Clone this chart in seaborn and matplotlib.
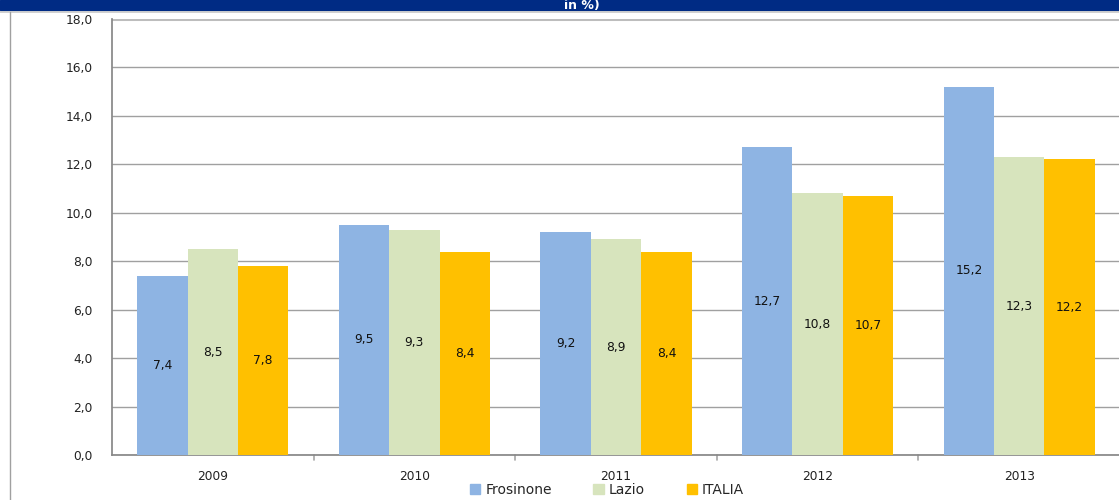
import matplotlib
matplotlib.use("Agg")
import matplotlib.pyplot as plt
from matplotlib.patches import Rectangle
from matplotlib.lines import Line2D
import seaborn as sns
import pandas as pd

years = ["2009", "2010", "2011", "2012", "2013"]
series = ["Frosinone", "Lazio", "ITALIA"]
frosinone = [7.4, 9.5, 9.2, 12.7, 15.2]
lazio = [8.5, 9.3, 8.9, 10.8, 12.3]
italia = [7.8, 8.4, 8.4, 10.7, 12.2]
yticks = [0, 2, 4, 6, 8, 10, 12, 14, 16, 18]
palette = ["#8EB4E3", "#D7E4BD", "#FFC000"]

df = pd.DataFrame({
    "anno": years * 3,
    "serie": [s for s in series for _ in years],
    "valore": frosinone + lazio + italia,
})

sns.set_theme(style="white")
plt.rcParams["font.family"] = ["DejaVu Sans"]

W, H = 1119, 500
fig = plt.figure(figsize=(W / 100, H / 100), dpi=100)
ax = fig.add_axes([112 / W, 1 - 455 / H, (1120 - 112) / W, (455 - 19) / H])

sns.barplot(data=df, x="anno", y="valore", hue="serie", hue_order=series,
            palette=palette, width=0.75, saturation=1, ax=ax,
            edgecolor="none", linewidth=0, legend=False, zorder=3)

ax.set_xlim(-0.5, len(years) - 0.5)
ax.set_ylim(0, 18)
ax.set_yticks(yticks)
ax.set_yticklabels([f"{v:.1f}".replace(".", ",") for v in yticks],
                   fontsize=8.8, color="#222222")
ax.set_xticks(range(len(years)))
ax.set_xticklabels(years, fontsize=8.8, color="#222222")
ax.set_xlabel("")
ax.set_ylabel("")

# category boundary ticks on the x axis
for b in [i + 0.5 for i in range(len(years) - 1)]:
    ax.plot([b, b], [0, -0.22], color="#A6A6A6", lw=1.2, clip_on=False, zorder=2)
ax.tick_params(axis="x", length=0, pad=11)
ax.tick_params(axis="y", length=5, width=1, color="#888888", pad=9)

ax.grid(axis="y", color="#A0A0A0", lw=1, zorder=0)
ax.axhline(18, color="#BDBDBD", lw=2.2, zorder=1)
for side in ["top", "right"]:
    ax.spines[side].set_visible(False)
ax.spines["left"].set_color("#888888")
ax.spines["bottom"].set_color("#888888")

for cont in ax.containers:
    ax.bar_label(cont, labels=[f"{v:.1f}".replace(".", ",") for v in cont.datavalues],
                 label_type="center", fontsize=8.8, color="#111111")

# legend along the bottom
handles = [Rectangle((0, 0), 1, 1, color=c) for c in palette]
fig.legend(handles, series, loc="center", bbox_to_anchor=(607 / W, 1 - 490 / H),
           ncol=3, frameon=False, fontsize=10, handlelength=0.75, handleheight=0.75,
           handletextpad=0.35, columnspacing=3.0, borderaxespad=0, borderpad=0)

# header band with the tail of the title
fig.patches.append(Rectangle((0, 1 - 10 / H), 1, 10 / H, transform=fig.transFigure,
                             color="#002B84", zorder=0))
fig.lines.append(Line2D([0, 1], [1 - 12 / H, 1 - 12 / H], transform=fig.transFigure,
                        color="#C8C8C8", lw=1.2))
fig.lines.append(Line2D([10 / W, 10 / W], [0, 1 - 12 / H], transform=fig.transFigure,
                        color="#A0A0A0", lw=1))
fig.text(582 / W, 1 - 8.5 / H, "in %)", color="white", fontsize=9, fontweight="bold",
         ha="center", va="baseline")

fig.savefig("out.png", dpi=100)
